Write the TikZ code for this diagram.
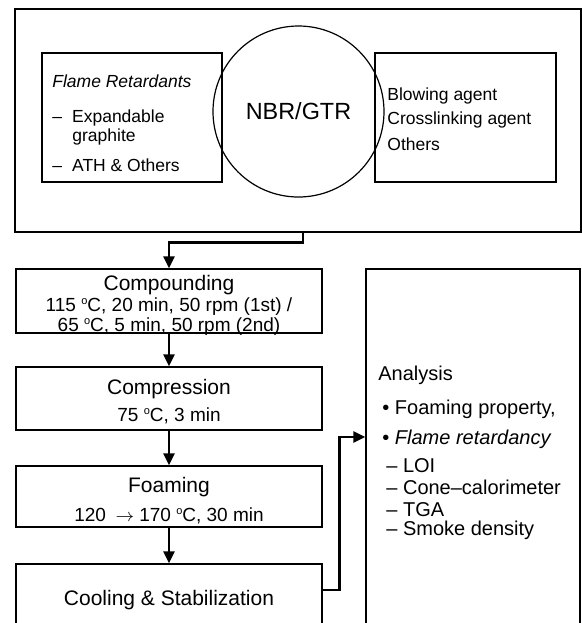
\documentclass[tikz,border=0pt]{standalone}
\usepackage{fontspec}
\setmainfont{Liberation Sans}
\usetikzlibrary{arrows.meta,fit}
\newcommand{\degc}{\raisebox{3.6pt}{\fontsize{5.5}{6}\selectfont o}C}
\begin{document}
\begin{tikzpicture}[x=0.5pt,y=-0.5pt,>={Triangle[width=5.5pt,length=6pt]},
	box/.style={draw,line width=0.6pt,inner sep=0pt},
	flow/.style={->,line width=1.2pt},
	lbl/.style={inner sep=0pt,anchor=west,text depth=0pt,text height=6.3pt,font=\fontsize{8.75}{10}\selectfont},
	ttl/.style={inner sep=0pt,text depth=0pt,text height=7.5pt,font=\fontsize{10.5}{12}\selectfont},
	cond/.style={inner sep=0pt,text depth=0pt,text height=6.8pt,font=\fontsize{9.5}{11}\selectfont},
	item/.style={inner sep=0pt,anchor=west,text depth=0pt,text height=7.2pt,font=\fontsize{10}{12}\selectfont}]
\useasboundingbox (0,0) rectangle (582,623);
\clip (0,0) rectangle (582,623);
\node[box,fit={(15,9) (581,232)}] (mix) {};
\node[box,fit={(42,53) (222,182)}] (fr) {};
\node[box,fit={(375,53) (556,182)}] (add) {};
\node[draw,line width=0.6pt,circle,minimum size=85.5pt,inner sep=0pt,font=\fontsize{11.7}{14}\selectfont] (nbr) at (298.5,111.5) {NBR/GTR};
\node[lbl] (fr1) at (52,81) {\textit{Flame Retardants}};
\node[lbl] (fr2) at (52,116) {–\hspace{5pt}Expandable};
\node[lbl] (fr3) at (72,135) {graphite};
\node[lbl] (fr4) at (52,165) {–\hspace{5pt}ATH \& Others};
\node[lbl] (add1) at (387,94) {Blowing agent};
\node[lbl] (add2) at (387,118) {Crosslinking agent};
\node[lbl] (add3) at (387,144) {Others};
\node[box,fit={(16,269) (322,333)}] (comp) {};
\node[ttl] (compt) at (169,283) {Compounding};
\node[cond] (comp1) at (169,305) {115 \degc, 20 min, 50 rpm (1st) /};
\node[cond] (comp2) at (169,325) {65 \degc, 5 min, 50 rpm (2nd)};
\node[box,fit={(16,367) (322,430)}] (press) {};
\node[ttl] (presst) at (169,387) {Compression};
\node[cond] (press1) at (169,415) {75 \degc, 3 min};
\node[box,fit={(16,466) (322,527)}] (foam) {};
\node[ttl] (foamt) at (169,485) {Foaming};
\node[cond] (foam1) at (169,515) {120\enspace$\rightarrow$ 170 \degc, 30 min};
\node[box,fit={(16,564) (322,640)}] (cool) {};
\node[ttl] (coolt) at (169,598) {Cooling \& Stabilization};
\node[box,fit={(366,269) (580,640)}] (ana) {};
\node[item] (ana0) at (378,373) {Analysis};
\node[item] (ana1) at (382,407) {\textbullet\ Foaming property,};
\node[item] (ana2) at (382,437) {\textbullet\ \textit{Flame retardancy}};
\node[item] (ana3) at (386,465) {– LOI};
\node[item] (ana4) at (386,487) {– Cone–calorimeter};
\node[item] (ana5) at (386,509) {– TGA};
\node[item] (ana6) at (386,528) {– Smoke density};
\coordinate (out) at (322,590);
\coordinate (in) at (366,437);
\draw[flow] ([xshift=2.5pt]mix.south) -- ++(0,10) -| (comp.north);
\draw[flow] (comp.south) -- (press.north);
\draw[flow] (press.south) -- (foam.north);
\draw[flow] (foam.south) -- (cool.north);
\draw[flow] (cool.east |- out) -- ++(17,0) |- (ana.west |- in);
\end{tikzpicture}
\end{document}
